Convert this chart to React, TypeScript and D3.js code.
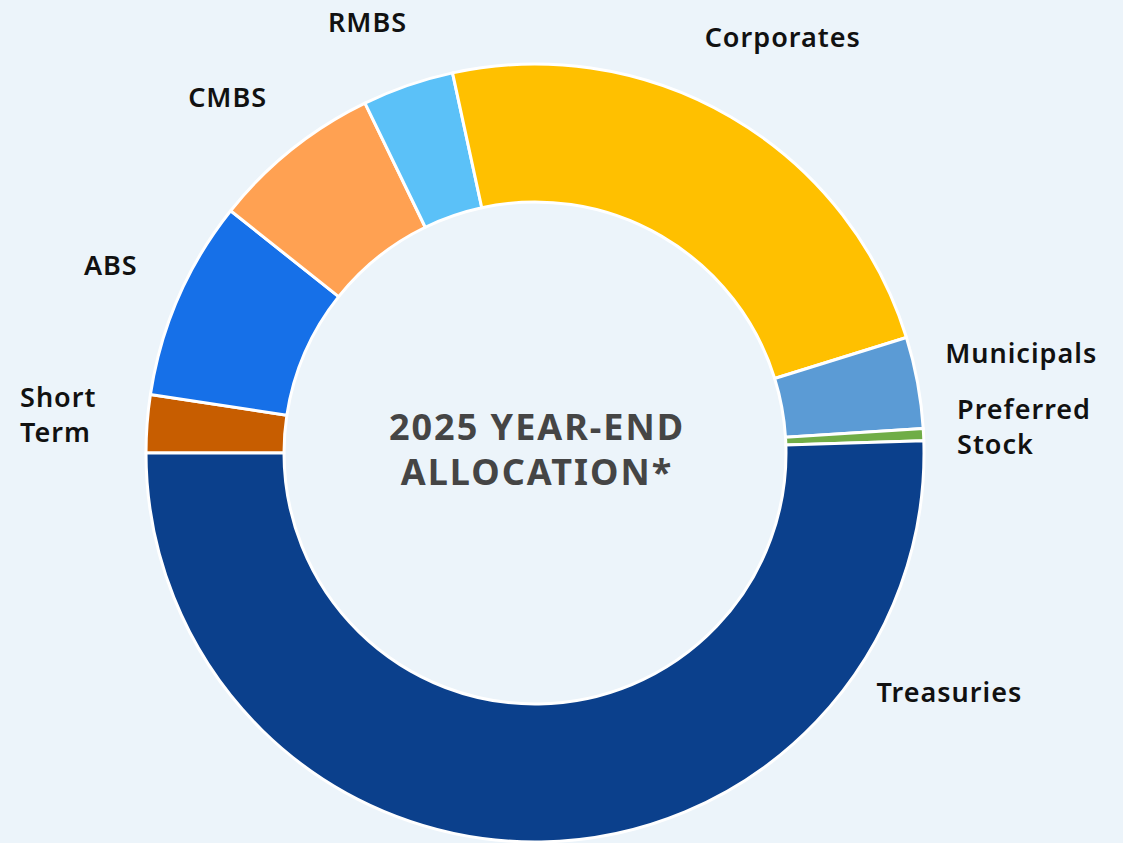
import React from "react";
import * as d3 from "d3";

const categories = ["Short Term", "ABS", "CMBS", "RMBS", "Corporates", "Municipals", "Preferred Stock", "Treasuries"];
const values = [2.4, 8.3, 7.1, 3.8, 23.6, 3.8, 0.5, 50.5];
const colors = ["#C75D00", "#1670E8", "#FFA152", "#5BC1F8", "#FFC000", "#5B9BD5", "#70AD47", "#0B408C"];
const labelLines = [["Short", "Term"], ["ABS"], ["CMBS"], ["RMBS"], ["Corporates"], ["Municipals"], ["Preferred", "Stock"], ["Treasuries"]];
const centerTitle = ["2025 YEAR-END", "ALLOCATION*"];

// label layout: polar position (degrees clockwise from 12 o'clock, radius) of first baseline
const labelLayout: Record<string, { a: number; r: number; anchor: string }> = {
  "Short Term": { a: -84.9, r: 517, anchor: "start" },
  ABS: { a: -67.25, r: 460, anchor: "middle" },
  CMBS: { a: -41.6, r: 463, anchor: "middle" },
  RMBS: { a: -21.7, r: 453, anchor: "middle" },
  Corporates: { a: 31.4, r: 475.5, anchor: "middle" },
  Municipals: { a: 77.6, r: 420, anchor: "start" },
  "Preferred Stock": { a: 85.4, r: 423.4, anchor: "start" },
  Treasuries: { a: 121.0, r: 483.5, anchor: "middle" },
};

const W = 1123;
const H = 843;
const CX = 535;
const CY = 453;
const R_OUT = 389;
const R_IN = 251;
const FONT = "'Noto Sans', 'Open Sans', sans-serif";

export default function App() {
  const data = categories.map((c, i) => ({ name: c, value: values[i], color: colors[i], lines: labelLines[i] }));
  const pie = d3
    .pie<any>()
    .value((d) => d.value)
    .sort(null)
    .startAngle(-Math.PI / 2)
    .endAngle((3 * Math.PI) / 2);
  const arcs = pie(data);
  const arc = d3.arc<any>().innerRadius(R_IN).outerRadius(R_OUT);

  return (
    <div style={{ position: "absolute", left: 0, top: 0 }}>
      <svg width={W} height={H} style={{ display: "block", background: "#ECF4FA" }}>
        <rect x={0} y={0} width={W} height={H} fill="#ECF4FA" />
        <g transform={`translate(${CX},${CY})`}>
          {arcs.map((a, i) => (
            <path key={i} d={arc(a) as string} fill={a.data.color} stroke="#FFFFFF" strokeWidth={3} strokeLinejoin="round" />
          ))}
          {arcs.map((a, i) => {
            const L = labelLayout[a.data.name];
            const rad = (L.a * Math.PI) / 180;
            const x = L.r * Math.sin(rad);
            const y = -L.r * Math.cos(rad);
            return (
              <text key={"l" + i} x={x} y={y} textAnchor={L.anchor} fontFamily={FONT} fontWeight={600} fontSize={27} letterSpacing={1} fill="#111111">
                {a.data.lines.map((ln: string, j: number) => (
                  <tspan key={j} x={x} dy={j === 0 ? 0 : 35}>
                    {ln}
                  </tspan>
                ))}
              </text>
            );
          })}
          <text textAnchor="middle" fontFamily={FONT} fontWeight={700} fontSize={36} letterSpacing={2} fill="#454545">
            <tspan x={2} y={-13}>{centerTitle[0]}</tspan>
            <tspan x={2} y={32}>{centerTitle[1]}</tspan>
          </text>
        </g>
      </svg>
    </div>
  );
}
